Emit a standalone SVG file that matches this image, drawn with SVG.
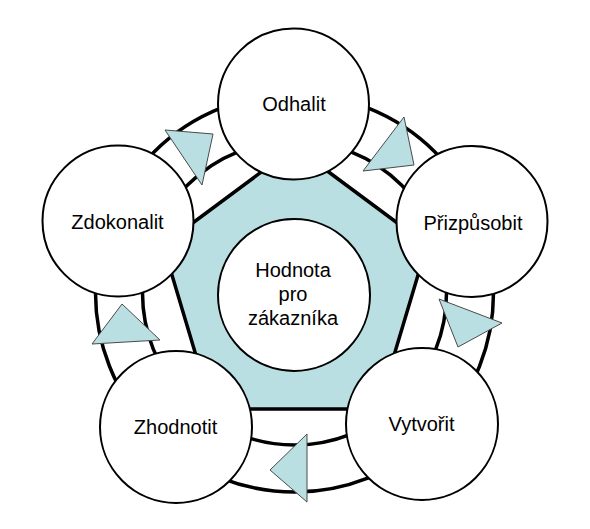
<svg xmlns="http://www.w3.org/2000/svg" width="590" height="529" viewBox="0 0 590 529">
<style>
.ring{fill:#fff;stroke:#000;stroke-width:3.5}
.node{fill:#fff;stroke:#000;stroke-width:2}
.lbl{font-family:"Liberation Sans",Arial,sans-serif;font-size:20px;fill:#000;text-anchor:middle}
.tri{fill:#B9DFE2;stroke:#4a4a4a;stroke-width:1}
</style>
<rect width="590" height="529" fill="#fff"/>
<g id="ring">
<circle class="ring" cx="294.5" cy="293" r="199"/>
<circle class="ring" cx="294.5" cy="293" r="152"/>
</g>
<g id="core">
<polygon points="295,147 427,245 378,409 212,409 163,245" fill="#B9DFE2" stroke="#000" stroke-width="3.5"/>
<circle class="node" cx="294" cy="295" r="76"/>
<text class="lbl" x="293" y="277">Hodnota</text>
<text class="lbl" x="293" y="301">pro</text>
<text class="lbl" x="293" y="325">zákazníka</text>
</g>
<g id="odhalit">
<circle class="node" cx="293.5" cy="104" r="75.5"/>
<text class="lbl" x="294" y="111">Odhalit</text>
</g>
<g id="prizpusobit">
<circle class="node" cx="472" cy="221.5" r="75.5"/>
<text class="lbl" x="473" y="230">Přizpůsobit</text>
</g>
<g id="vytvorit">
<circle class="node" cx="422" cy="424" r="76"/>
<text class="lbl" x="421.5" y="431">Vytvořit</text>
</g>
<g id="zhodnotit">
<circle class="node" cx="176" cy="427" r="76"/>
<text class="lbl" x="175.5" y="434">Zhodnotit</text>
</g>
<g id="zdokonalit">
<circle class="node" cx="118" cy="221" r="75.5"/>
<text class="lbl" x="117.5" y="229">Zdokonalit</text>
</g>
<g id="connectors">
<polygon class="tri" points="165,130 213,134 202,185"/>
<polygon class="tri" points="404,117 414,165 363,171"/>
<polygon class="tri" points="439,299 502,323 458,347"/>
<polygon class="tri" points="307,434 270,470 307,502"/>
<polygon class="tri" points="122,304 160,340 92,344"/>
</g>
</svg>
